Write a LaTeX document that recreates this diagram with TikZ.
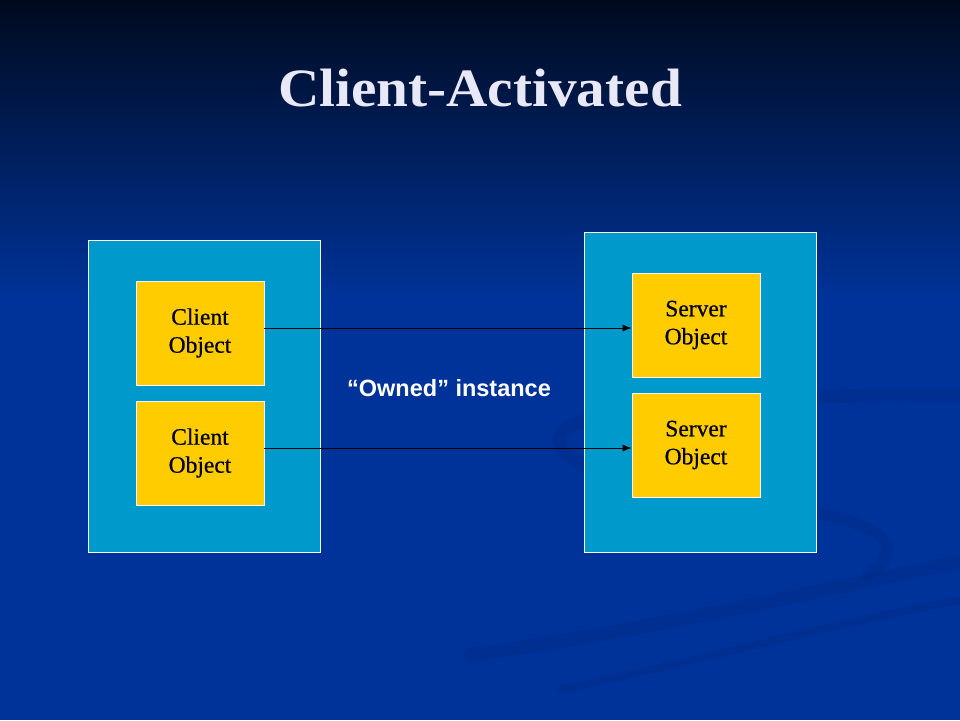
\documentclass[tikz,border=0pt]{standalone}
\usepackage{fontspec}
\setmainfont{Liberation Serif}
\newfontfamily\labelfont{Liberation Sans}
\newfontfamily\titlefont[FakeStretch=1.06]{Liberation Serif}
\newfontfamily\boxfont[FakeBold=0.6]{Liberation Serif}
\usetikzlibrary{arrows.meta}
\definecolor{bgblue}{HTML}{003399}
\definecolor{bgtop}{HTML}{000A1E}
\definecolor{swoosh}{HTML}{002A85}
\definecolor{contblue}{HTML}{0099CC}
\definecolor{objyellow}{HTML}{FFCC00}
\definecolor{titlecol}{HTML}{E8E8F6}
\tikzset{
  container/.style={draw=white, line width=0.8pt, fill=contblue, minimum width=232pt, inner sep=0pt},
  objbox/.style={draw=white, line width=0.8pt, fill=objyellow, minimum width=128pt, minimum height=104pt,
    inner sep=0pt, align=center, font=\boxfont\fontsize{23.5}{28}\selectfont, text=black},
  link/.style={draw=black, line width=0.8pt, -{Latex[length=9pt,width=7pt]}},
  swooshline/.style={draw=swoosh, line cap=round, opacity=0.35},
}
\begin{document}
\begin{tikzpicture}[x=1pt,y=-1pt]
\useasboundingbox (0,0) rectangle (960,720);
% background
\fill[bgblue] (0,0) rectangle (960,720);
\shade[top color=bgtop, bottom color=bgblue] (0,0) rectangle (960,300);
% faint swooshes
\draw[swooshline, line width=14pt] (960,395) .. controls (800,395) and (590,400) .. (562,432) .. controls (545,455) and (600,480) .. (690,490);
\draw[swooshline, line width=12pt] (812,512) .. controls (880,525) and (910,545) .. (868,575);
\draw[swooshline, line width=14pt] (470,655) .. controls (650,630) and (820,590) .. (960,562);
\draw[swooshline, line width=8pt] (560,690) .. controls (700,660) and (850,620) .. (960,600);
% title
\node (title) [text=titlecol, font=\titlefont\bfseries\fontsize{54}{60}\selectfont, anchor=base, inner sep=0pt] at (480,106) {Client-Activated};
% containers
\node (clientside) [container, minimum height=312pt] at (204,396) {};
\node (serverside) [container, minimum height=320pt] at (700,392) {};
% objects
\node (c1) [objbox] at (200,333) {Client\\Object};
\node (c2) [objbox] at (200,453) {Client\\Object};
\node (s1) [objbox] at (696,325) {Server\\Object};
\node (s2) [objbox] at (696,445) {Server\\Object};
% connectors
\draw[link] ([yshift=5pt]c1.east) -- ([yshift=-3pt]s1.west);
\draw[link] ([yshift=5pt]c2.east) -- ([yshift=-3pt]s2.west);
% label
\node (lbl) [text=white, font=\labelfont\bfseries\fontsize{23.5}{28}\selectfont, anchor=base] at (449,396) {“Owned” instance};
\end{tikzpicture}
\end{document}
